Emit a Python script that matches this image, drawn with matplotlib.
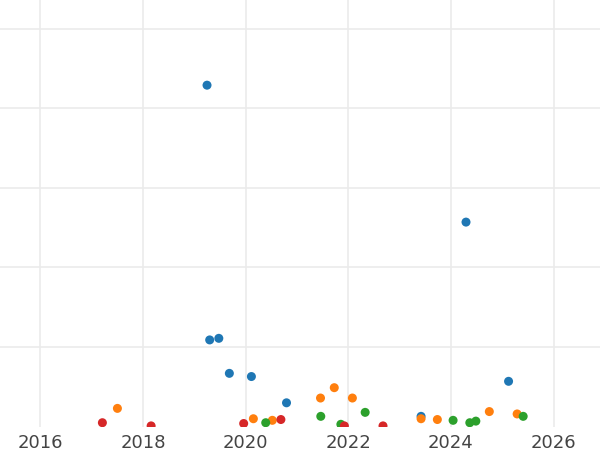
import pandas as pd
import matplotlib
matplotlib.use('Agg')
import matplotlib.pyplot as plt
import matplotlib.dates as mdates

# Data (dates, value in grid units)
blue_dates = ['2019-04-01', '2024-04-18', '2019-04-20', '2019-06-24', '2019-09-07',
              '2020-02-11', '2020-10-18', '2025-02-15', '2023-06-03']
blue_vals = [4.29, 2.57, 1.09, 1.11, 0.67, 0.63, 0.30, 0.57, 0.13]

orange_dates = ['2017-07-02', '2020-02-25', '2020-07-09', '2021-06-17', '2021-09-23',
                '2022-01-30', '2023-06-03', '2023-09-27', '2024-10-01', '2025-04-17']
orange_vals = [0.23, 0.10, 0.08, 0.36, 0.49, 0.36, 0.10, 0.09, 0.19, 0.16]

green_dates = ['2020-05-23', '2021-06-19', '2021-11-09', '2022-05-01', '2024-01-17',
               '2024-05-15', '2024-06-27', '2025-05-30']
green_vals = [0.05, 0.13, 0.03, 0.18, 0.08, 0.05, 0.07, 0.13]

red_dates = ['2017-03-17', '2018-02-27', '2019-12-18', '2020-09-08', '2021-12-04',
             '2022-09-05']
red_vals = [0.05, 0.01, 0.04, 0.09, 0.01, 0.01]

series = [
    (blue_dates, blue_vals, '#1f77b4'),
    (orange_dates, orange_vals, '#ff7f0e'),
    (green_dates, green_vals, '#2ca02c'),
    (red_dates, red_vals, '#d62728'),
]

fig = plt.figure(figsize=(6, 4.5), dpi=100)
ax = fig.add_axes([0, 0.0518, 1, 0.9482])

for dates, vals, color in series:
    ax.scatter(pd.to_datetime(dates), vals, s=42, color=color,
               edgecolors='none', zorder=3)

ax.set_xlim(pd.Timestamp('2015-03-19'), pd.Timestamp('2026-11-28'))
ax.set_ylim(0, 5.36)
ax.xaxis.set_major_locator(mdates.YearLocator(2))
ax.xaxis.set_major_formatter(mdates.DateFormatter('%Y'))
ax.set_yticks([1, 2, 3, 4, 5])
ax.tick_params(axis='y', labelleft=False, length=0)
ax.tick_params(axis='x', length=0, pad=5, labelsize=13, labelcolor='#444444')

ax.grid(True, color='#ebebeb', lw=1.2)
ax.set_axisbelow(True)
for s in ax.spines.values():
    s.set_visible(False)

fig.savefig('out.png', dpi=100)
